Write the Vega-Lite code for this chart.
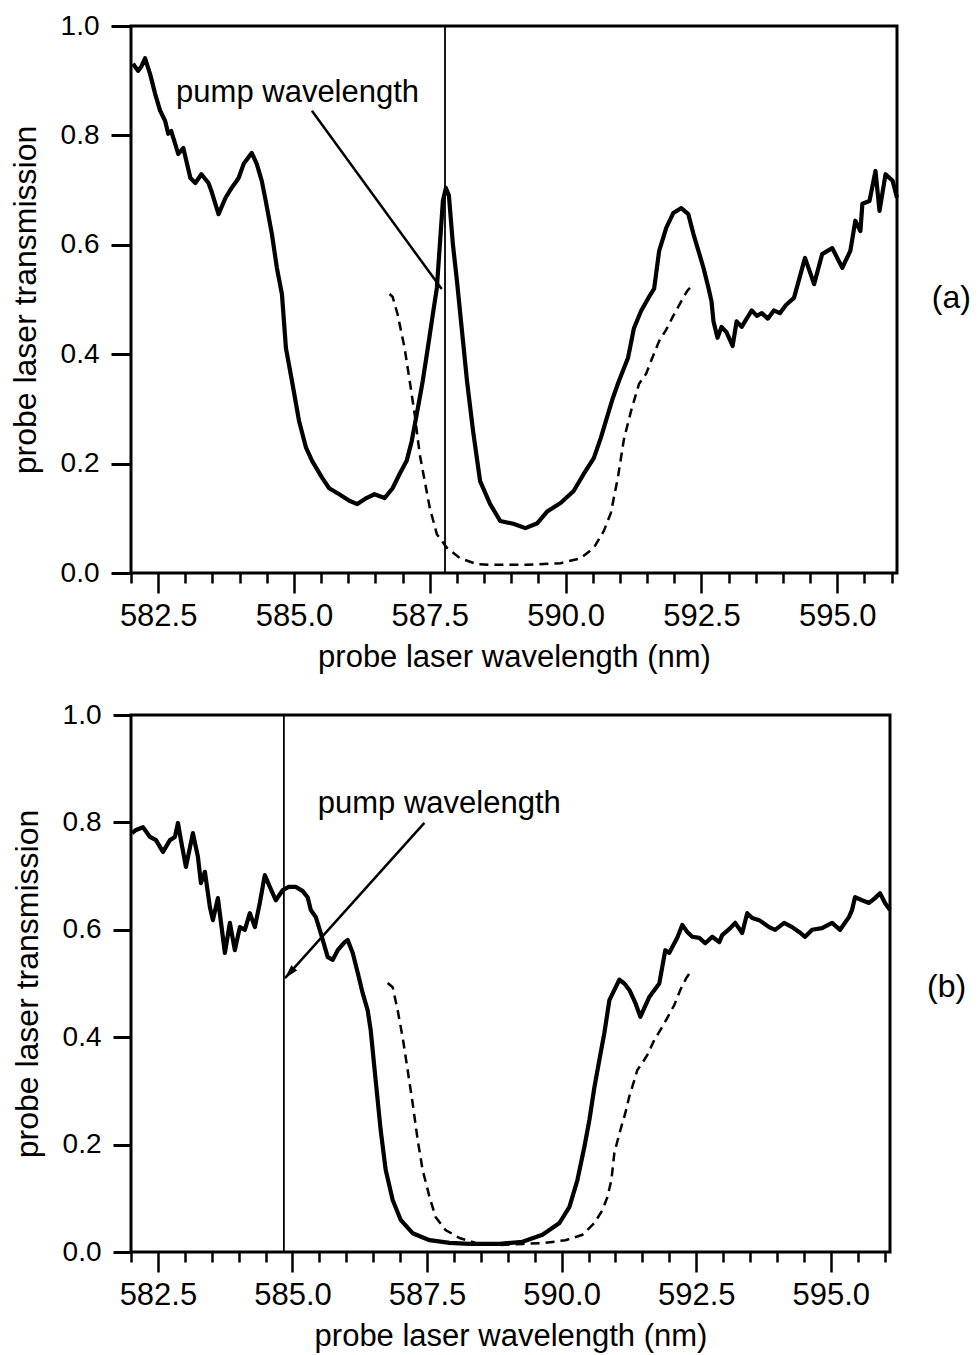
{
  "$schema": "https://vega.github.io/schema/vega-lite/v6.json",
  "background": "white",
  "padding": {"top": 10, "left": 7, "right": 0, "bottom": 0},
  "spacing": 25,
  "config": {
    "view": {"stroke": "black", "strokeWidth": 3},
    "axis": {
      "domain": false, "grid": false,
      "labelFont": "Liberation Sans", "labelColor": "black",
      "titleFont": "Liberation Sans", "titleColor": "black", "titleFontWeight": "normal",
      "tickColor": "black", "tickWidth": 2.5, "labelFlush": false, "labelOverlap": false
    },
    "text": {"font": "Liberation Sans", "color": "black"}
  },
  "datasets": {
    "a_solid": [
      {"wl":582.037,"t":0.931},{"wl":582.130,"t":0.918},{"wl":582.185,"t":0.925},{"wl":582.259,"t":0.941},{"wl":582.352,"t":0.912},{"wl":582.444,"t":0.876},{"wl":582.537,"t":0.845},{"wl":582.630,"t":0.826},{"wl":582.685,"t":0.803},{"wl":582.741,"t":0.808},{"wl":582.870,"t":0.766},{"wl":582.963,"t":0.777},{"wl":583.093,"t":0.722},{"wl":583.185,"t":0.713},{"wl":583.296,"t":0.729},{"wl":583.426,"t":0.713},{"wl":583.481,"t":0.698},{"wl":583.611,"t":0.656},{"wl":583.741,"t":0.686},{"wl":583.852,"t":0.704},{"wl":583.981,"t":0.722},{"wl":584.074,"t":0.748},{"wl":584.222,"t":0.768},{"wl":584.315,"t":0.748},{"wl":584.407,"t":0.717},{"wl":584.481,"t":0.68},{"wl":584.593,"t":0.62},{"wl":584.685,"t":0.558},{"wl":584.778,"t":0.51},{"wl":584.852,"t":0.411},{"wl":584.963,"t":0.351},{"wl":585.093,"t":0.278},{"wl":585.222,"t":0.229},{"wl":585.333,"t":0.205},{"wl":585.519,"t":0.174},{"wl":585.648,"t":0.155},{"wl":585.833,"t":0.144},{"wl":586.019,"t":0.132},{"wl":586.167,"t":0.126},{"wl":586.333,"t":0.137},{"wl":586.481,"t":0.144},{"wl":586.667,"t":0.137},{"wl":586.815,"t":0.155},{"wl":586.944,"t":0.181},{"wl":587.074,"t":0.205},{"wl":587.167,"t":0.241},{"wl":587.259,"t":0.29},{"wl":587.370,"t":0.351},{"wl":587.463,"t":0.411},{"wl":587.556,"t":0.473},{"wl":587.630,"t":0.521},{"wl":587.685,"t":0.6},{"wl":587.741,"t":0.68},{"wl":587.796,"t":0.704},{"wl":587.852,"t":0.69},{"wl":587.926,"t":0.6},{"wl":588.0,"t":0.534},{"wl":588.093,"t":0.442},{"wl":588.185,"t":0.351},{"wl":588.296,"t":0.26},{"wl":588.426,"t":0.168},{"wl":588.611,"t":0.126},{"wl":588.796,"t":0.095},{"wl":589.037,"t":0.09},{"wl":589.259,"t":0.082},{"wl":589.481,"t":0.091},{"wl":589.667,"t":0.113},{"wl":589.907,"t":0.128},{"wl":590.148,"t":0.15},{"wl":590.333,"t":0.181},{"wl":590.519,"t":0.21},{"wl":590.648,"t":0.247},{"wl":590.778,"t":0.29},{"wl":590.870,"t":0.32},{"wl":590.981,"t":0.351},{"wl":591.148,"t":0.393},{"wl":591.259,"t":0.448},{"wl":591.389,"t":0.479},{"wl":591.537,"t":0.505},{"wl":591.630,"t":0.52},{"wl":591.722,"t":0.589},{"wl":591.852,"t":0.631},{"wl":591.981,"t":0.658},{"wl":592.130,"t":0.667},{"wl":592.259,"t":0.656},{"wl":592.352,"t":0.62},{"wl":592.463,"t":0.583},{"wl":592.537,"t":0.558},{"wl":592.630,"t":0.521},{"wl":592.685,"t":0.497},{"wl":592.722,"t":0.46},{"wl":592.796,"t":0.43},{"wl":592.870,"t":0.45},{"wl":592.963,"t":0.44},{"wl":593.074,"t":0.415},{"wl":593.148,"t":0.46},{"wl":593.241,"t":0.45},{"wl":593.333,"t":0.465},{"wl":593.426,"t":0.48},{"wl":593.519,"t":0.47},{"wl":593.611,"t":0.475},{"wl":593.722,"t":0.465},{"wl":593.833,"t":0.48},{"wl":593.944,"t":0.475},{"wl":594.056,"t":0.49},{"wl":594.204,"t":0.503},{"wl":594.407,"t":0.576},{"wl":594.574,"t":0.528},{"wl":594.722,"t":0.583},{"wl":594.907,"t":0.594},{"wl":595.093,"t":0.558},{"wl":595.241,"t":0.589},{"wl":595.333,"t":0.644},{"wl":595.426,"t":0.625},{"wl":595.463,"t":0.675},{"wl":595.593,"t":0.68},{"wl":595.704,"t":0.735},{"wl":595.778,"t":0.662},{"wl":595.889,"t":0.729},{"wl":596.019,"t":0.717},{"wl":596.1,"t":0.686}
    ],
    "a_dash": [
      {"wl":586.759,"t":0.51},{"wl":586.815,"t":0.505},{"wl":586.907,"t":0.473},{"wl":587.037,"t":0.411},{"wl":587.130,"t":0.351},{"wl":587.222,"t":0.29},{"wl":587.315,"t":0.217},{"wl":587.407,"t":0.168},{"wl":587.5,"t":0.119},{"wl":587.630,"t":0.071},{"wl":587.815,"t":0.046},{"wl":588.056,"t":0.027},{"wl":588.370,"t":0.016},{"wl":588.667,"t":0.015},{"wl":589.296,"t":0.015},{"wl":589.907,"t":0.018},{"wl":590.278,"t":0.027},{"wl":590.519,"t":0.046},{"wl":590.704,"t":0.077},{"wl":590.833,"t":0.11},{"wl":590.963,"t":0.175},{"wl":591.074,"t":0.245},{"wl":591.204,"t":0.296},{"wl":591.352,"t":0.346},{"wl":591.481,"t":0.364},{"wl":591.574,"t":0.388},{"wl":591.722,"t":0.424},{"wl":591.852,"t":0.445},{"wl":591.981,"t":0.47},{"wl":592.130,"t":0.497},{"wl":592.241,"t":0.516},{"wl":592.352,"t":0.528}
    ],
    "a_pump": [{"wl":587.78,"t":0,"t2":1}],
    "a_arrow": [{"wl":585.33,"t":0.845,"wl2":587.72,"t2":0.519}],
    "a_text": [{"wl":582.83,"t":0.861,"label":"pump wavelength"}],
    "a_tag": [{"wl":597.1,"t":0.503,"label":"(a)"}],
    "b_solid": [
      {"wl":582.019,"t":0.78},{"wl":582.093,"t":0.786},{"wl":582.223,"t":0.791},{"wl":582.353,"t":0.773},{"wl":582.464,"t":0.767},{"wl":582.594,"t":0.745},{"wl":582.724,"t":0.767},{"wl":582.816,"t":0.773},{"wl":582.872,"t":0.799},{"wl":582.928,"t":0.767},{"wl":583.020,"t":0.717},{"wl":583.150,"t":0.78},{"wl":583.243,"t":0.736},{"wl":583.299,"t":0.687},{"wl":583.373,"t":0.708},{"wl":583.466,"t":0.642},{"wl":583.521,"t":0.618},{"wl":583.614,"t":0.659},{"wl":583.744,"t":0.557},{"wl":583.837,"t":0.613},{"wl":583.929,"t":0.562},{"wl":584.022,"t":0.605},{"wl":584.115,"t":0.6},{"wl":584.208,"t":0.631},{"wl":584.301,"t":0.605},{"wl":584.393,"t":0.65},{"wl":584.486,"t":0.702},{"wl":584.579,"t":0.68},{"wl":584.690,"t":0.655},{"wl":584.820,"t":0.674},{"wl":584.931,"t":0.68},{"wl":585.061,"t":0.68},{"wl":585.191,"t":0.672},{"wl":585.284,"t":0.66},{"wl":585.340,"t":0.637},{"wl":585.432,"t":0.624},{"wl":585.525,"t":0.594},{"wl":585.655,"t":0.549},{"wl":585.748,"t":0.544},{"wl":585.840,"t":0.562},{"wl":585.970,"t":0.577},{"wl":586.026,"t":0.581},{"wl":586.119,"t":0.557},{"wl":586.212,"t":0.52},{"wl":586.304,"t":0.482},{"wl":586.397,"t":0.45},{"wl":586.453,"t":0.413},{"wl":586.545,"t":0.32},{"wl":586.638,"t":0.227},{"wl":586.731,"t":0.153},{"wl":586.861,"t":0.097},{"wl":587.009,"t":0.06},{"wl":587.232,"t":0.035},{"wl":587.547,"t":0.022},{"wl":587.918,"t":0.017},{"wl":588.289,"t":0.015},{"wl":588.846,"t":0.015},{"wl":589.273,"t":0.019},{"wl":589.644,"t":0.032},{"wl":589.960,"t":0.054},{"wl":590.145,"t":0.084},{"wl":590.293,"t":0.134},{"wl":590.423,"t":0.196},{"wl":590.516,"t":0.246},{"wl":590.609,"t":0.307},{"wl":590.701,"t":0.358},{"wl":590.794,"t":0.408},{"wl":590.887,"t":0.469},{"wl":590.980,"t":0.488},{"wl":591.072,"t":0.507},{"wl":591.165,"t":0.5},{"wl":591.258,"t":0.488},{"wl":591.369,"t":0.464},{"wl":591.462,"t":0.438},{"wl":591.629,"t":0.475},{"wl":591.814,"t":0.5},{"wl":591.926,"t":0.562},{"wl":592.0,"t":0.557},{"wl":592.056,"t":0.568},{"wl":592.148,"t":0.585},{"wl":592.241,"t":0.609},{"wl":592.334,"t":0.596},{"wl":592.427,"t":0.587},{"wl":592.557,"t":0.585},{"wl":592.668,"t":0.575},{"wl":592.798,"t":0.587},{"wl":592.928,"t":0.577},{"wl":592.983,"t":0.59},{"wl":593.132,"t":0.603},{"wl":593.224,"t":0.613},{"wl":593.354,"t":0.594},{"wl":593.447,"t":0.631},{"wl":593.540,"t":0.622},{"wl":593.670,"t":0.618},{"wl":593.855,"t":0.605},{"wl":593.967,"t":0.6},{"wl":594.134,"t":0.613},{"wl":594.282,"t":0.605},{"wl":594.412,"t":0.596},{"wl":594.523,"t":0.587},{"wl":594.653,"t":0.6},{"wl":594.838,"t":0.603},{"wl":595.024,"t":0.613},{"wl":595.173,"t":0.6},{"wl":595.340,"t":0.624},{"wl":595.395,"t":0.637},{"wl":595.451,"t":0.661},{"wl":595.581,"t":0.655},{"wl":595.711,"t":0.65},{"wl":595.822,"t":0.659},{"wl":595.915,"t":0.668},{"wl":596.007,"t":0.65},{"wl":596.1,"t":0.637}
    ],
    "b_dash": [
      {"wl":586.768,"t":0.501},{"wl":586.861,"t":0.493},{"wl":586.954,"t":0.45},{"wl":587.046,"t":0.4},{"wl":587.139,"t":0.339},{"wl":587.232,"t":0.277},{"wl":587.325,"t":0.209},{"wl":587.417,"t":0.153},{"wl":587.547,"t":0.102},{"wl":587.659,"t":0.065},{"wl":587.844,"t":0.041},{"wl":588.104,"t":0.026},{"wl":588.401,"t":0.017},{"wl":588.846,"t":0.013},{"wl":589.273,"t":0.015},{"wl":589.699,"t":0.017},{"wl":590.071,"t":0.022},{"wl":590.386,"t":0.032},{"wl":590.609,"t":0.054},{"wl":590.757,"t":0.078},{"wl":590.850,"t":0.102},{"wl":590.924,"t":0.134},{"wl":590.980,"t":0.185},{"wl":591.072,"t":0.22},{"wl":591.128,"t":0.24},{"wl":591.184,"t":0.259},{"wl":591.258,"t":0.29},{"wl":591.351,"t":0.32},{"wl":591.406,"t":0.339},{"wl":591.499,"t":0.352},{"wl":591.592,"t":0.367},{"wl":591.722,"t":0.395},{"wl":591.833,"t":0.413},{"wl":591.963,"t":0.436},{"wl":592.093,"t":0.46},{"wl":592.204,"t":0.488},{"wl":592.315,"t":0.51},{"wl":592.389,"t":0.521}
    ],
    "b_pump": [{"wl":584.84,"t":0,"t2":1}],
    "b_arrow": [{"wl":587.45,"t":0.799,"wl2":584.86,"t2":0.51}],
    "b_head": [{"wl":584.86,"t":0.51}],
    "b_text": [{"wl":585.47,"t":0.8175,"label":"pump wavelength"}],
    "b_tag": [{"wl":597.15,"t":0.493,"label":"(b)"}]
  },
  "vconcat": [
    {
      "width": 766,
      "height": 547,
      "encoding": {
        "x": {"field": "wl", "type": "quantitative",
          "scale": {"domain": [582, 596.1], "nice": false, "zero": false},
          "axis": {
            "title": "probe laser wavelength (nm)",
            "values": [582,582.5,583,583.5,584,584.5,585,585.5,586,586.5,587,587.5,588,588.5,589,589.5,590,590.5,591,591.5,592,592.5,593,593.5,594,594.5,595,595.5,596],
            "tickSize": {"condition": {"test": "datum.value % 2.5 === 0", "value": 20}, "value": 10},
            "labelExpr": "datum.value % 2.5 === 0 ? format(datum.value, '.1f') : ''",
            "labelFontSize": 31, "titleFontSize": 31,
            "labelPadding": 8, "titlePadding": 11
          }},
        "y": {"field": "t", "type": "quantitative",
          "scale": {"domain": [0, 1], "nice": false, "zero": false},
          "axis": {"title": "probe laser transmission", "values": [0,0.2,0.4,0.6,0.8,1.0], "format": ".1f",
            "labelFontSize": 28, "titleFontSize": 32,
            "tickSize": 20, "tickWidth": 3, "labelPadding": 12, "titlePadding": 18}}
      },
      "layer": [
        {"data": {"name": "a_solid"}, "mark": {"type": "line", "color": "black", "strokeWidth": 4.2, "strokeJoin": "round"}},
        {"data": {"name": "a_dash"}, "mark": {"type": "line", "color": "black", "strokeWidth": 2.5, "strokeDash": [9, 6]}},
        {"data": {"name": "a_pump"}, "mark": {"type": "rule", "color": "black", "strokeWidth": 1.8},
          "encoding": {"y2": {"field": "t2"}}},
        {"data": {"name": "a_arrow"}, "mark": {"type": "rule", "color": "black", "strokeWidth": 2.5},
          "encoding": {"x2": {"field": "wl2"}, "y2": {"field": "t2"}}},
        {"data": {"name": "a_text"}, "mark": {"type": "text", "align": "left", "baseline": "alphabetic", "fontSize": 31},
          "encoding": {"text": {"field": "label"}}},
        {"data": {"name": "a_tag"}, "mark": {"type": "text", "align": "center", "baseline": "middle", "fontSize": 32},
          "encoding": {"text": {"field": "label"}}}
      ]
    },
    {
      "width": 759,
      "height": 537,
      "encoding": {
        "x": {"field": "wl", "type": "quantitative",
          "scale": {"domain": [582, 596.1], "nice": false, "zero": false},
          "axis": {
            "title": "probe laser wavelength (nm)",
            "values": [582,582.5,583,583.5,584,584.5,585,585.5,586,586.5,587,587.5,588,588.5,589,589.5,590,590.5,591,591.5,592,592.5,593,593.5,594,594.5,595,595.5,596],
            "tickSize": {"condition": {"test": "datum.value % 2.5 === 0", "value": 20}, "value": 10},
            "labelExpr": "datum.value % 2.5 === 0 ? format(datum.value, '.1f') : ''",
            "labelFontSize": 31, "titleFontSize": 31,
            "labelPadding": 8, "titlePadding": 11
          }},
        "y": {"field": "t", "type": "quantitative",
          "scale": {"domain": [0, 1], "nice": false, "zero": false},
          "axis": {"title": "probe laser transmission", "values": [0,0.2,0.4,0.6,0.8,1.0], "format": ".1f",
            "labelFontSize": 28, "titleFontSize": 32,
            "tickSize": 18, "tickWidth": 3, "labelPadding": 12, "titlePadding": 18}}
      },
      "layer": [
        {"data": {"name": "b_solid"}, "mark": {"type": "line", "color": "black", "strokeWidth": 4.2, "strokeJoin": "round"}},
        {"data": {"name": "b_dash"}, "mark": {"type": "line", "color": "black", "strokeWidth": 2.5, "strokeDash": [9, 6]}},
        {"data": {"name": "b_pump"}, "mark": {"type": "rule", "color": "black", "strokeWidth": 1.8},
          "encoding": {"y2": {"field": "t2"}}},
        {"data": {"name": "b_arrow"}, "mark": {"type": "rule", "color": "black", "strokeWidth": 2.5},
          "encoding": {"x2": {"field": "wl2"}, "y2": {"field": "t2"}}},
        {"data": {"name": "b_head"}, "mark": {"type": "point", "shape": "M0,0 L-0.45,1.6 L0.45,1.6 Z", "filled": true, "color": "black", "opacity": 1, "size": 300, "angle": 222}},
        {"data": {"name": "b_text"}, "mark": {"type": "text", "align": "left", "baseline": "alphabetic", "fontSize": 31},
          "encoding": {"text": {"field": "label"}}},
        {"data": {"name": "b_tag"}, "mark": {"type": "text", "align": "center", "baseline": "middle", "fontSize": 32},
          "encoding": {"text": {"field": "label"}}}
      ]
    }
  ]
}
